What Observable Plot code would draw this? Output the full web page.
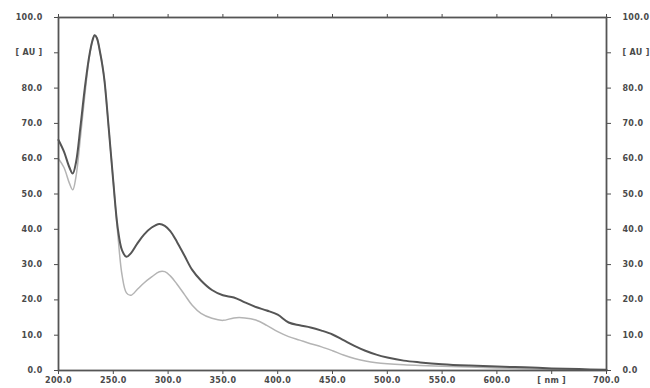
<!DOCTYPE html>
<html>
<head>
<meta charset="utf-8">
<script src="https://cdn.jsdelivr.net/npm/d3@7"></script>
<script src="https://cdn.jsdelivr.net/npm/@observablehq/plot@0.6"></script>
<style>
  html, body { margin: 0; padding: 0; background: #fff; }
</style>
</head>
<body>
<div id="chart"></div>
<script>
const wavelength = [200,205,210,213,216,220,224,228,231,233,235,238,240,242,246,250,254,258,262,266,272,278,285,292,297,302,308,315,322,330,340,350,360,370,380,390,400,410,420,430,440,450,460,470,480,490,500,515,530,550,575,600,625,650,675,700];
const darkSeries = [65.3,62,57.5,55.8,59,69,80,89,93.5,95,94.2,90,86.5,82,68,53.5,40.5,34,32.2,33.2,36,38.5,40.5,41.5,41,39.5,36.5,32.5,28.5,25.5,22.8,21.3,20.7,19.3,18,17,15.8,13.6,12.8,12.2,11.3,10.2,8.6,7,5.6,4.5,3.7,2.8,2.3,1.8,1.4,1.1,0.9,0.6,0.4,0.2];
const lightSeries = [60,57.5,53,51.2,55,66,78,88.5,93.5,95,94.2,90,86.5,82,68,53.5,39,27,22,21.3,23,24.8,26.5,28,28,26.8,24.5,21.5,18.5,16.2,14.8,14.2,14.9,14.9,14.3,12.8,11,9.6,8.6,7.6,6.7,5.6,4.4,3.4,2.7,2.2,1.9,1.6,1.4,1.2,1.0,0.7,0.5,0.3,0.2,0.1];
const xTicks = [200,250,300,350,400,450,500,550,600,650,700];
const yTicks = [0,10,20,30,40,50,60,70,80,90,100];
const xTickLabel = d => d === 650 ? "[ nm ]" : d.toFixed(1);
const yTickLabel = d => d === 90 ? "[ AU ]" : d.toFixed(1);

const dark = wavelength.map((w, i) => ({w, v: darkSeries[i]}));
const light = wavelength.map((w, i) => ({w, v: lightSeries[i]}));

const chart = Plot.plot({
  width: 650,
  height: 388,
  marginLeft: 58,
  marginRight: 44,
  marginTop: 17,
  marginBottom: 18,
  x: {domain: [200, 700]},
  y: {domain: [0, 100]},
  style: {fontFamily: "DejaVu Sans", fontWeight: "bold", fontSize: "8px", letterSpacing: "0.3px", color: "#4a4a4a", background: "#fff"},
  marks: [
    Plot.line(light, {x: "w", y: "v", stroke: "#b4b4b4", strokeWidth: 1.5, curve: "catmull-rom"}),
    Plot.line(dark, {x: "w", y: "v", stroke: "#555", strokeWidth: 2, curve: "catmull-rom"}),
    Plot.axisX({anchor: "bottom", ticks: xTicks, tickFormat: xTickLabel, tickSize: 4, tickPadding: 3, label: null}),
    Plot.axisX({anchor: "top", ticks: xTicks, tickFormat: () => "", tickSize: 4, label: null}),
    Plot.axisY({anchor: "left", ticks: yTicks, tickFormat: yTickLabel, tickSize: 4, tickPadding: 12, label: null}),
    Plot.axisY({anchor: "right", ticks: yTicks, tickFormat: yTickLabel, tickSize: 4, tickPadding: 12, label: null}),
    Plot.frame({stroke: "#555", strokeWidth: 1.8})
  ]
});
document.getElementById("chart").appendChild(chart);
</script>
</body>
</html>
